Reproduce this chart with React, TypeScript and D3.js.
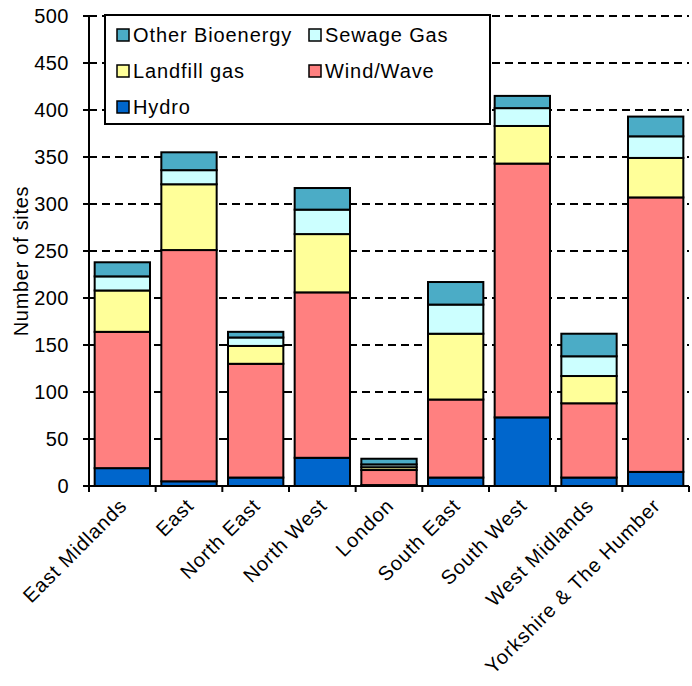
import React from "react";
import * as d3 from "d3";

const categories = [
  "East Midlands",
  "East",
  "North East",
  "North West",
  "London",
  "South East",
  "South West",
  "West Midlands",
  "Yorkshire & The Humber",
];
const hydro = [19, 5, 9, 30, 1, 9, 73, 9, 15];
const windWave = [145, 246, 121, 176, 16, 83, 270, 79, 292];
const landfill = [44, 70, 19, 62, 3, 70, 40, 29, 42];
const sewage = [15, 15, 9, 26, 3, 31, 19, 21, 23];
const otherBio = [15, 19, 6, 23, 6, 24, 13, 24, 21];
const yTicks = [0, 50, 100, 150, 200, 250, 300, 350, 400, 450, 500];

const seriesNames = ["Hydro", "Wind/Wave", "Landfill gas", "Sewage Gas", "Other Bioenergy"];
const seriesValues = [hydro, windWave, landfill, sewage, otherBio];
const seriesColors = ["#0066CC", "#FF8080", "#FFFF99", "#CCFFFF", "#4BACC6"];

const FONT = "'Liberation Sans', Arial, sans-serif";

export default function App() {
  const W = 692;
  const H = 686;
  const left = 89;
  const right = 689;
  const top = 16;
  const bottom = 486;

  const x = d3.scaleBand<string>().domain(categories).range([left, right]).paddingInner(0.17).paddingOuter(0.085);
  const xb = d3.scaleBand<string>().domain(categories).range([left, right]);
  const y = d3.scaleLinear().domain([0, 500]).range([bottom, top]);

  const rows = categories.map((c, i) => {
    const r: any = { cat: c };
    seriesNames.forEach((s, k) => (r[s] = seriesValues[k][i]));
    return r;
  });
  const stack = d3.stack<any>().keys(seriesNames)(rows);

  const legendItems = [
    { name: "Other Bioenergy", col: 0, row: 0 },
    { name: "Sewage Gas", col: 1, row: 0 },
    { name: "Landfill gas", col: 0, row: 1 },
    { name: "Wind/Wave", col: 1, row: 1 },
    { name: "Hydro", col: 0, row: 2 },
  ];

  return (
    <svg width={W} height={H} style={{ position: "absolute", left: 0, top: 0, background: "#fff" }} fontFamily={FONT}>
      {/* gridlines */}
      {yTicks.filter((t) => t > 0).map((t) => (
        <line key={t} x1={left} x2={right} y1={y(t)} y2={y(t)} stroke="#000" strokeWidth={2} strokeDasharray="8 5" />
      ))}
      {/* bars */}
      {stack.map((layer, k) => (
        <g key={layer.key}>
          {layer.map((d, i) => (
            <rect
              key={i}
              x={x(categories[i])}
              width={x.bandwidth()}
              y={y(d[1])}
              height={Math.max(0, y(d[0]) - y(d[1]))}
              fill={seriesColors[k]}
              stroke="#000"
              strokeWidth={2}
            />
          ))}
        </g>
      ))}
      {/* axes */}
      <line x1={left} x2={left} y1={top} y2={bottom} stroke="#000" strokeWidth={2} />
      <line x1={left} x2={right} y1={bottom} y2={bottom} stroke="#000" strokeWidth={2} />
      {yTicks.map((t) => (
        <g key={t}>
          <line x1={left - 6} x2={left} y1={y(t)} y2={y(t)} stroke="#000" strokeWidth={2} />
          <text x={69} y={y(t)} dy="0.37em" textAnchor="end" fontSize={20} letterSpacing={0.5}>
            {t}
          </text>
        </g>
      ))}
      {categories.map((c, i) => (
        <line key={"t" + i} x1={xb(c)} x2={xb(c)} y1={bottom} y2={bottom + 6} stroke="#000" strokeWidth={2} />
      ))}
      <line x1={right} x2={right} y1={bottom} y2={bottom + 6} stroke="#000" strokeWidth={2} />
      {categories.map((c) => {
        const cx = (xb(c) as number) + xb.bandwidth() / 2 + 6;
        return (
          <text key={c} transform={`translate(${cx},${bottom + 21}) rotate(-45)`} textAnchor="end" fontSize={20} letterSpacing={0.9}>
            {c}
          </text>
        );
      })}
      <text transform={`translate(28,261) rotate(-90)`} textAnchor="middle" fontSize={20} letterSpacing={0.7}>
        Number of sites
      </text>
      {/* legend */}
      <rect x={105} y={15} width={385} height={109} fill="#fff" stroke="#000" strokeWidth={2} />
      {legendItems.map((it) => {
        const k = seriesNames.indexOf(it.name);
        const lx = it.col === 0 ? 117 : 309;
        const ly = 35 + it.row * 36;
        return (
          <g key={it.name}>
            <rect x={lx} y={ly - 6} width={12} height={12} fill={seriesColors[k]} stroke="#000" strokeWidth={1.5} />
            <text x={lx + 16} y={ly} dy="0.36em" fontSize={20} letterSpacing={0.9}>
              {it.name}
            </text>
          </g>
        );
      })}
    </svg>
  );
}
